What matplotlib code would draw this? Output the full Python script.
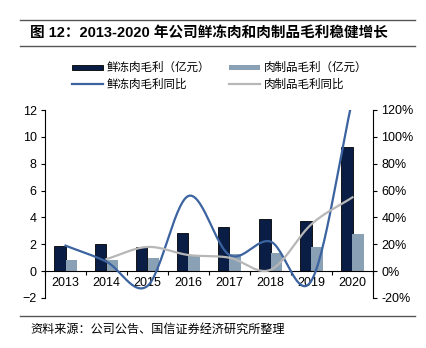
import numpy as np
import matplotlib.pyplot as plt
from matplotlib.lines import Line2D
from matplotlib.patches import Rectangle

plt.rcParams['font.family'] = ['Liberation Sans', 'Noto Sans CJK SC', 'DejaVu Sans']

years = ['2013', '2014', '2015', '2016', '2017', '2018', '2019', '2020']
fresh_profit = [1.9, 2.0, 1.8, 2.85, 3.25, 3.9, 3.75, 9.25]
product_profit = [0.8, 0.85, 1.0, 1.15, 1.25, 1.35, 1.8, 2.75]
fresh_yoy = [19, 7, -11, 56, 12, 22, -7, 128]
product_yoy = [None, 9, 18, 12, 10, 1, 35, 55]

navy = '#0a1d45'
steel = '#8aa0b5'
blue = '#3b63a0'
grey = '#b7b7b7'
cjk = ['Noto Sans CJK SC', 'DejaVu Sans']


def smooth(xs, ys, n=30):
    # catmull-rom curve through the points, like excel's smoothed line
    xs = np.asarray(xs, float)
    ys = np.asarray(ys, float)
    px = np.concatenate([[2 * xs[0] - xs[1]], xs, [2 * xs[-1] - xs[-2]]])
    py = np.concatenate([[2 * ys[0] - ys[1]], ys, [2 * ys[-1] - ys[-2]]])
    ox, oy = [], []
    t = np.linspace(0, 1, n)
    for i in range(1, len(px) - 2):
        for p, out in ((px, ox), (py, oy)):
            p0, p1, p2, p3 = p[i - 1], p[i], p[i + 1], p[i + 2]
            out.extend(0.5 * (2 * p1 + (-p0 + p2) * t
                              + (2 * p0 - 5 * p1 + 4 * p2 - p3) * t ** 2
                              + (-p0 + 3 * p1 - 3 * p2 + p3) * t ** 3))
    return np.array(ox), np.array(oy)


fig = plt.figure(figsize=(4.27, 3.48), dpi=100)
ax = fig.add_axes([45 / 427, 1 - 298 / 348, 328 / 427, 188 / 348])
ax2 = ax.twinx()

x = np.arange(len(years))
w = 0.29
ax.bar(x - 0.145, fresh_profit, w, color=navy, edgecolor='black', linewidth=0.6, zorder=2)
ax.bar(x + 0.145, product_profit, w, color=steel, zorder=2)

ax.set_xlim(-0.5, len(years) - 0.5)
ax.set_ylim(-2, 12)
ax.set_yticks(range(-2, 13, 2))
ax.spines['bottom'].set_position(('data', 0))
ax.spines['top'].set_visible(False)
ax.spines['right'].set_visible(False)
ax.spines['bottom'].set_linewidth(0.8)
ax.spines['left'].set_linewidth(0.8)
ax.set_xticks(np.arange(-0.5, len(years), 1))
ax.set_xticklabels([])
ax.set_xticks(x, minor=True)
ax.set_xticklabels(years, minor=True)
ax.tick_params(axis='x', which='major', direction='out', length=3, width=0.8)
ax.tick_params(axis='x', which='minor', length=0, pad=4, labelsize=9)
ax.tick_params(axis='y', direction='out', length=3, width=0.8, labelsize=9, pad=3)

sx, sy = smooth(x, fresh_yoy)
ax2.plot(sx, sy, color=blue, linewidth=1.6, zorder=3)
gx = [i for i, v in zip(x, product_yoy) if v is not None]
gy = [v for v in product_yoy if v is not None]
sx, sy = smooth(gx, gy)
ax2.plot(sx, sy, color=grey, linewidth=1.6, zorder=3)
ax2.set_ylim(-20, 120)
ax2.set_yticks(range(-20, 121, 20))
ax2.set_yticklabels([f'{v}%' for v in range(-20, 121, 20)])
for s in ('top', 'left', 'bottom'):
    ax2.spines[s].set_visible(False)
ax2.spines['right'].set_linewidth(0.8)
ax2.tick_params(axis='y', direction='out', length=3, width=0.8, labelsize=9, pad=3)
ax2.set_xlim(-0.5, len(years) - 0.5)

# title block
fig.add_artist(Line2D([20 / 427, 415 / 427], [1 - 20 / 348] * 2, color='#555555', linewidth=1))
fig.add_artist(Line2D([20 / 427, 415 / 427], [1 - 46 / 348] * 2, color='#555555', linewidth=1))
fig.text(30 / 427, 1 - 33 / 348, '图 12：2013-2020 年公司鲜冻肉和肉制品毛利稳健增长',
         fontsize=10.5, fontweight='bold', va='center', ha='left',
         family=['Liberation Sans', 'Noto Sans CJK SC'])

# legend
def fx(px):
    return px / 427


def fy(py):
    return 1 - py / 348


fig.add_artist(Rectangle((fx(72), fy(70)), fx(31), 5 / 348, facecolor=navy, edgecolor='black', linewidth=0.6))
fig.add_artist(Rectangle((fx(229), fy(70)), fx(31), 5 / 348, facecolor=steel, edgecolor='none'))
fig.add_artist(Line2D([fx(72), fx(103)], [fy(84)] * 2, color=blue, linewidth=1.6))
fig.add_artist(Line2D([fx(229), fx(260)], [fy(84)] * 2, color=grey, linewidth=1.6))
for px, py, txt in ((107, 67, '鲜冻肉毛利（亿元）'), (264, 67, '肉制品毛利（亿元）'),
                    (107, 84, '鲜冻肉毛利同比'), (264, 84, '肉制品毛利同比')):
    fig.text(fx(px), fy(py), txt, fontsize=8.3, va='center', ha='left', family=cjk)

# source
fig.add_artist(Line2D([20 / 427, 415 / 427], [1 - 316 / 348] * 2, color='#555555', linewidth=1))
fig.text(fx(30), fy(329), '资料来源：公司公告、国信证券经济研究所整理', fontsize=8.7,
         va='center', ha='left', family=cjk)

fig.savefig('out.png', dpi=100)
